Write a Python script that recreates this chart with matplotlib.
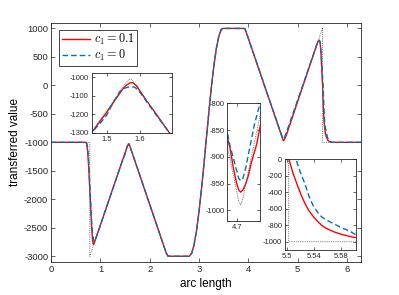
import matplotlib
matplotlib.use("Agg")
import matplotlib.pyplot as plt

plt.rcParams['font.family'] = ['Liberation Sans', 'DejaVu Sans']
plt.rcParams['mathtext.fontset'] = 'cm'
plt.rcParams['axes.unicode_minus'] = False

# ---------------- data ----------------
x_red = [0, 0.70, 0.72, 0.74, 0.76, 0.78, 0.80, 0.82, 0.84, 0.855, 0.87,
         1.455, 1.50, 1.53, 1.55, 1.56, 1.57, 1.575, 1.58, 1.59, 1.60, 1.62, 1.65, 1.69,
         2.30, 2.34, 2.37, 2.40, 2.80, 2.85, 2.90, 2.95, 3.00, 3.05, 3.10, 3.15, 3.20,
         3.25, 3.30, 3.35, 3.40, 3.45, 3.48, 3.90, 3.93, 3.96,
         4.665, 4.675, 4.686, 4.697, 4.705, 4.712, 4.72, 4.73, 4.739, 4.75, 4.768, 4.78,
         5.38, 5.41, 5.436, 5.455, 5.47, 5.485, 5.5025, 5.508, 5.514, 5.52, 5.526, 5.532,
         5.539, 5.545, 5.551, 5.557, 5.564, 5.57, 5.576, 5.582, 5.589, 5.595, 5.60,
         5.62, 5.65, 5.70, 6.2832]
y_red = [-1000, -1000, -1020, -1150, -1400, -1750, -2100, -2450, -2700, -2790, -2780,
         -1298, -1190, -1110, -1060, -1042, -1030, -1028, -1030, -1045, -1072, -1125, -1200, -1302,
         -2858, -2955, -2993, -3000, -3000, -2947, -2790, -2538, -2204, -1808, -1368, -908, -452,
         -26, 346, 650, 866, 982, 1000, 1000, 995, 920,
         -864, -885, -920, -948, -962, -966, -962, -950, -935, -910, -877, -844,
         700, 770, 795, 740, 560, 300, 0, -155, -291, -420, -530, -620,
         -697, -752, -799, -832, -860, -881, -898, -913, -927, -938, -947,
         -972, -990, -1000, -1000]

x_blue = [0, 0.70, 0.72, 0.74, 0.76, 0.78, 0.80, 0.82, 0.84, 0.86, 0.875, 0.89,
          1.455, 1.48, 1.50, 1.52, 1.54, 1.555, 1.57, 1.585, 1.60, 1.62, 1.65, 1.69,
          2.30, 2.34, 2.37, 2.40, 2.80, 2.85, 2.90, 2.95, 3.00, 3.05, 3.10, 3.15, 3.20,
          3.25, 3.30, 3.35, 3.40, 3.45, 3.48, 3.90, 3.93, 3.96,
          4.665, 4.675, 4.685, 4.695, 4.705, 4.712, 4.72, 4.73, 4.745, 4.76, 4.78,
          5.38, 5.41, 5.436, 5.455, 5.475, 5.495, 5.513, 5.519, 5.526, 5.532, 5.539, 5.545,
          5.551, 5.557, 5.564, 5.57, 5.576, 5.582, 5.589, 5.595, 5.60,
          5.62, 5.65, 5.70, 6.2832]
y_blue = [-1000, -1000, -1010, -1080, -1300, -1650, -2000, -2350, -2600, -2720, -2740, -2730,
          -1298, -1250, -1205, -1135, -1075, -1058, -1050, -1053, -1080, -1130, -1205, -1302,
          -2858, -2955, -2993, -3000, -3000, -2947, -2790, -2538, -2204, -1808, -1368, -908, -452,
          -26, 346, 650, 866, 982, 1000, 1000, 995, 920,
          -855, -880, -900, -920, -940, -945, -940, -920, -880, -840, -800,
          700, 765, 790, 760, 560, 250, 0, -150, -291, -440, -570, -640,
          -697, -730, -760, -785, -810, -835, -857, -880, -906,
          -955, -985, -1000, -1000]

x_exact = [0, 0.785, 0.7851, 1.54, 1.555, 1.565, 1.571, 1.578, 1.59, 2.356, 2.80,
           2.85, 2.90, 2.95, 3.00, 3.05, 3.10, 3.15, 3.20, 3.25, 3.30, 3.35, 3.40, 3.45, 3.48,
           3.927, 4.695, 4.705, 4.712, 4.72, 4.73, 5.502, 5.5021, 6.2832]
y_exact = [-1000, -1000, -3000, -1079, -1037, -1014, -1008, -1016, -1050, -3000, -3000,
           -2947, -2790, -2538, -2204, -1808, -1368, -908, -452, -26, 346, 650, 866, 982, 1000,
           1000, -957, -983, -990, -978, -950, 1010, -1000, -1000]

main_xticks = [0, 1, 2, 3, 4, 5, 6]
main_yticks = [-3000, -2500, -2000, -1500, -1000, -500, 0, 500, 1000]
in1_xticks = [1.5, 1.6]
in1_yticks = [-1300, -1200, -1100, -1000]
in2_xticks = [4.7]
in2_yticks = [-1000, -950, -900, -850, -800]
in3_xticks = [5.5, 5.54, 5.58]
in3_xlabels = ['5.5', '5.54', '5.58']
in3_yticks = [-1000, -800, -600, -400, -200, 0]

RED = '#ff0000'
BLUE = '#0072bd'
AX = '#262626'

fig = plt.figure(figsize=(3.99, 2.95), dpi=100)


def style(ax, fs, tl):
    for s in ax.spines.values():
        s.set_color(AX)
        s.set_linewidth(0.6)
    ax.tick_params(direction='in', top=True, right=True, length=tl, width=0.5,
                   colors=AX, labelsize=fs, pad=2)


def draw(ax):
    ax.plot(x_red, y_red, color=RED, lw=1.0, label=r'$c_1 = 0.1$')
    ax.plot(x_blue, y_blue, color=BLUE, lw=1.0, ls=(0, (4, 2.2)), label=r'$c_1 = 0$')
    ax.plot(x_exact, y_exact, color='#555555', lw=0.6, ls=(0, (1, 1.2)))


ax = fig.add_axes([0.128, 0.112, 0.777, 0.811])
draw(ax)
ax.set_xlim(0, 6.2832)
ax.set_ylim(-3100, 1100)
ax.set_xticks(main_xticks)
ax.set_yticks(main_yticks)
style(ax, 6.8, 3)
ax.set_xlabel('arc length', fontsize=8.5, labelpad=3)
ax.set_ylabel('transferred value', fontsize=8.5, labelpad=2)
leg = ax.legend(loc='upper left', bbox_to_anchor=(0.027, 0.97), borderaxespad=0,
                fontsize=8.8, handlelength=2.3, fancybox=False, framealpha=1,
                edgecolor=AX, borderpad=0.2, labelspacing=0.05, handletextpad=0.3)
leg.get_frame().set_linewidth(0.6)

in1 = fig.add_axes([0.2298, 0.548, 0.2013, 0.2034])
draw(in1)
in1.set_xlim(1.455, 1.697)
in1.set_ylim(-1303, -978)
in1.set_xticks(in1_xticks)
in1.set_yticks(in1_yticks)
style(in1, 5.4, 2)

in2 = fig.add_axes([0.5697, 0.2508, 0.082, 0.399])
draw(in2)
in2.set_xlim(4.665, 4.78)
in2.set_ylim(-1020, -800)
in2.set_xticks(in2_xticks)
in2.set_yticks(in2_yticks)
style(in2, 5.4, 2)

in3 = fig.add_axes([0.7143, 0.1525, 0.1772, 0.3075])
draw(in3)
in3.set_xlim(5.4966, 5.602)
in3.set_ylim(-1100, 0)
in3.set_xticks(in3_xticks)
in3.set_xticklabels(in3_xlabels)
in3.set_yticks(in3_yticks)
style(in3, 5.4, 2)

fig.savefig('out.png', dpi=100)
